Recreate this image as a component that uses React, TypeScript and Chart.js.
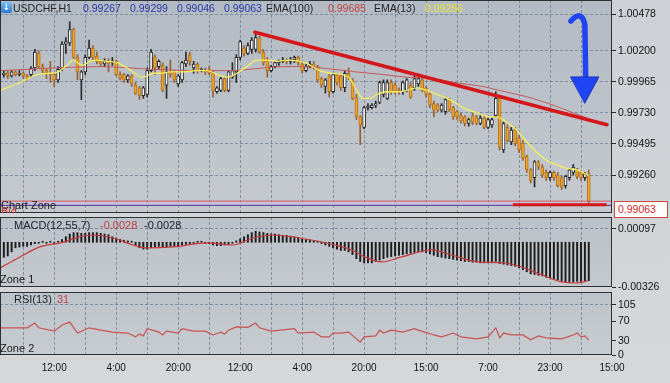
import React, { useEffect, useRef } from 'react';
import { Chart, registerables } from 'chart.js';

Chart.register(...registerables);

const FONT = '"Liberation Sans", Arial, Helvetica, sans-serif';

// ---------------- data (prices in pips: 1 pip = 0.0001) ----------------
const openPips = [
  10002, 10003, 10001, 10004, 10002, 10003, 10001, 10002, 10007, 10018,
  10008, 10005, 10003, 10002, 9998, 10006, 10025, 10026, 10036, 10015,
  9998, 10004, 10015, 10022, 10016, 10012, 10010, 10012, 10011, 10012,
  10002, 10002, 9998, 10001, 9994, 9992, 9986, 9987, 10005, 10015,
  10008, 10009, 9994, 10004, 10004, 9995, 9998, 10010, 10017, 10007,
  10010, 10005, 10005, 10006, 10003, 9989, 9990, 9999, 9990, 10000,
  10004, 10015, 10022, 10018, 10021, 10021, 10030, 10019, 10013, 10005,
  10008, 10011, 10012, 10013, 10012, 10013, 10015, 10010, 10005, 10008,
  10010, 10008, 9999, 9993, 10001, 9989, 10002, 10001, 9992, 10003,
  9998, 9985, 9970, 9962, 9977, 9977, 9979, 9981, 9987, 9984,
  9996, 9994, 9990, 9989, 9990, 9994, 9992, 9995, 9998, 9992,
  9987, 9980, 9979, 9975, 9974, 9983, 9977, 9974, 9971, 9970,
  9965, 9971, 9970, 9965, 9969, 9962, 9964, 9971, 9984, 9945,
  9962, 9951, 9960, 9954, 9950, 9940, 9930, 9924, 9936, 9932,
  9928, 9924, 9928, 9926, 9924, 9918, 9924, 9928, 9930, 9928,
  9924, 9926.7,
];
const highPips = [
  10005, 10005, 10005, 10005, 10005, 10004, 10002, 10008, 10021, 10020,
  10010, 10006, 10012, 10003, 10008, 10027, 10030, 10042, 10037, 10017,
  10005, 10017, 10028, 10024, 10019, 10013, 10014, 10014, 10015, 10013,
  10004, 10003, 10002, 10002, 9996, 9993, 9993, 10007, 10021, 10017,
  10013, 10011, 10008, 10013, 10005, 10002, 10012, 10019, 10019, 10012,
  10011, 10007, 10007, 10008, 10005, 9993, 10000, 10000, 10005, 10011,
  10017, 10028, 10024, 10026, 10030, 10034, 10031, 10021, 10015, 10009,
  10012, 10013, 10015, 10014, 10015, 10016, 10016, 10012, 10010, 10012,
  10012, 10009, 10000, 9999, 10002, 10003, 10003, 10002, 10005, 10007,
  9999, 9987, 9971, 9978, 9980, 9980, 9982, 9997, 9998, 9998,
  9998, 9996, 9992, 9997, 9999, 9996, 10001, 10002, 9999, 9993,
  9988, 9982, 9980, 9980, 9984, 9984, 9978, 9975, 9973, 9971,
  9969, 9973, 9971, 9971, 9971, 9969, 9969, 9989, 9986, 9966,
  9964, 9962, 9962, 9956, 9952, 9941, 9931, 9937, 9937, 9934,
  9930, 9929, 9929, 9928, 9925, 9926, 9931, 9934, 9931, 9929,
  9928, 9929.9,
];
const lowPips = [
  10000, 9999, 10000, 10001, 10001, 9999, 9998, 10000, 10005, 10007,
  10003, 9999, 9996, 9993, 9996, 10005, 10018, 10024, 10014, 9998,
  9983, 10002, 10014, 10013, 10010, 10008, 10008, 10004, 10009, 10001,
  9998, 9996, 9996, 9993, 9987, 9983, 9984, 9985, 10004, 10002,
  10006, 9989, 9984, 10000, 9996, 9993, 9996, 10008, 10009, 10003,
  10003, 10004, 10002, 10002, 9985, 9988, 9989, 9989, 9989, 9999,
  9996, 10013, 10016, 10017, 10018, 10019, 10018, 10009, 10000, 10004,
  10007, 10009, 10011, 10010, 10010, 10011, 10009, 10003, 10004, 10007,
  10006, 9996, 9992, 9988, 9985, 9988, 9994, 9990, 9989, 9998,
  9983, 9968, 9949, 9961, 9975, 9976, 9977, 9980, 9985, 9983,
  9987, 9987, 9987, 9987, 9989, 9984, 9990, 9993, 9989, 9985,
  9977, 9970, 9974, 9974, 9972, 9974, 9968, 9968, 9965, 9963,
  9963, 9964, 9964, 9964, 9961, 9961, 9962, 9970, 9945, 9943,
  9951, 9949, 9948, 9943, 9937, 9928, 9920, 9917, 9930, 9924,
  9922, 9922, 9922, 9917, 9915, 9916, 9922, 9926, 9923, 9922,
  9922, 9904.6,
];
const closePips = [
  10003, 10001, 10004, 10002, 10003, 10001, 9999, 10007, 10019, 10008,
  10005, 10003, 10002, 9998, 10006, 10025, 10027, 10036, 10015, 10004,
  10004, 10015, 10022, 10015, 10012, 10010, 10012, 10010, 10012, 10002,
  9999, 9998, 10001, 9995, 9988, 9986, 9992, 10005, 10019, 10007,
  10012, 9990, 10004, 10002, 9998, 10001, 10011, 10013, 10012, 10010,
  10005, 10006, 10004, 10003, 9990, 9992, 9999, 9990, 10004, 10005,
  10015, 10027, 10018, 10024, 10028, 10030, 10019, 10011, 10005, 10008,
  10011, 10012, 10013, 10012, 10013, 10015, 10011, 10005, 10008, 10010,
  10008, 9998, 9994, 9998, 9989, 10002, 9996, 9992, 10003, 9999,
  9984, 9970, 9964, 9977, 9978, 9979, 9980, 9996, 9996, 9996,
  9989, 9989, 9989, 9996, 9998, 9985, 9999, 9999, 9990, 9987,
  9979, 9975, 9975, 9979, 9983, 9975, 9970, 9970, 9967, 9965,
  9968, 9966, 9965, 9969, 9962, 9968, 9968, 9984, 9947, 9965,
  9952, 9960, 9950, 9945, 9939, 9930, 9922, 9936, 9932, 9926,
  9924, 9928, 9924, 9918, 9917, 9925, 9930, 9932, 9925, 9924,
  9927, 9906.3,
];

// EMA lines (bar position, pips)
const ema13Bars = [0, 5.2, 9.5, 12.9, 15, 18, 18.8, 21.2, 23.2, 25, 27.6, 30.2, 32.8, 36.9, 39.5, 41.3, 43.9, 47.2, 50.8, 53.7, 56, 58.6, 61.2, 63.7, 66.3, 68.9, 71.5, 74.8, 78.7, 82.6, 85.2, 88.5, 90.3, 92.1, 93.7, 95.5, 97.3, 99.9, 102.5, 105, 107.6, 110.2, 112.8, 115.4, 117.4, 119.5, 123.1, 126.5, 128.5, 129.8, 133.4, 136, 138.6, 141.2, 143.7, 146.3, 148.9, 152];
const ema13Pips = [9990, 9996, 10002, 10003, 10004, 10011, 10013, 10009, 10012, 10013, 10012, 10011, 10007, 10000, 10003, 10003, 10004, 10004, 10005, 10005, 10002, 10000, 10003, 10008, 10013, 10013, 10012, 10013, 10011, 10005, 10003, 10002, 9999, 9990, 9984, 9984, 9987, 9989, 9989, 9990, 9992, 9990, 9987, 9984, 9981, 9977, 9973, 9970, 9970, 9968, 9960, 9951, 9943, 9937, 9934, 9931, 9930, 9925.6];
const ema100Bars = [0, 25.8, 39.5, 51.6, 60, 64.5, 73, 78.7, 86, 92, 99, 105, 111.7, 117.4, 124.6, 129, 137.5, 144.5, 152];
const ema100Pips = [10005, 10008, 10006, 10005, 10005, 10006, 10008, 10008, 10006, 10004, 10002, 10000, 9999, 9996, 9993, 9990, 9984, 9977, 9968.5];

// hand-drawn annotations (bar position, price)
const trendBars = [65.8, 156.7];
const trendPrices = [1.0034, 0.9964];
const supportBars = [132.4, 156.6];
const supportPrices = [0.99035, 0.99035];
const arrowBars = [147.4, 150.2, 151.0, 151.2];
const arrowPrices = [1.00425, 1.00516, 1.00395, 1.00005];
const headBars = [147.4, 154.6, 151.0];
const headPrices = [1.00002, 1.00002, 0.99805];
const bidPrice = 0.99063;
const zonePrice = 0.99031;

// MACD (units of 0.0001)
const macdHist = [
  -11, -10, -7, -4, -3.5, -3, -3, -2, -1, -0.5,
  0.3, -0.3, 0.3, -0.3, 0.3, 2, 4, 6, 7, 7,
  6.5, 6.5, 7, 7, 7, 6.5, 6, 5.5, 4, 3,
  2, 1.5, 1, 0.3, -2, -4, -5, -5, -4, -3.5,
  -3, -3.5, -3.5, -3, -3, -2.5, -2, -1.5, -1, -0.5,
  0.3, 0.3, -0.3, -1, -2, -2.5, -2.5, -2, -1.5, -0.5,
  1, 2.5, 4, 5.5, 7, 8, 7.5, 7, 6.5, 6,
  6, 5.5, 5, 5, 4.5, 4, 3.5, 2.5, 2, 1.5,
  1, 0.3, -1, -2, -3, -4, -5, -6, -6, -7,
  -9, -12, -14, -15, -15, -15, -14, -13, -12, -11,
  -10.5, -10, -9.5, -9, -8.5, -8, -7.5, -7, -7, -7.5,
  -8.5, -9.5, -10.5, -11, -11.5, -12, -12.5, -13, -13.5, -14,
  -14, -14.5, -14.5, -15, -15, -15, -15, -14, -15.5, -16,
  -16.5, -17, -17.5, -18.5, -20, -21.5, -23, -23.5, -24, -24.5,
  -25.5, -26, -26.5, -27.5, -28.5, -29, -29, -29, -28.5, -28.5,
  -28, -28,
];
const macdSigBars = [0, 5.2, 10.3, 15.5, 20.6, 24, 29.2, 34.3, 38, 44.6, 53.4, 60.1, 65.3, 70.5, 77.4, 86.5, 90.8, 94.2, 98.6, 103.7, 111.5, 116.6, 123.4, 130.3, 134.7, 139.9, 145, 148.4, 151.7];
const macdSigVals = [-18.7, -10.7, -3.4, -0.5, 3.9, 5.3, 3.1, -2, -4.2, -3.4, -0.5, -2, 3.1, 5.3, 3.1, -2, -5.6, -10.7, -14.3, -10.7, -5.6, -9.3, -14.3, -15.1, -18, -23.8, -28.9, -29.7, -28.2];

// RSI(13)
const rsiBars = [0, 7, 9, 10, 14, 16, 18, 20, 23, 26, 29, 33, 35, 36, 37, 38, 41, 42, 43, 46, 47, 50, 53, 55, 57, 58, 59, 61, 64, 66, 67, 70, 76, 77, 81, 83, 85, 86, 88, 90, 93, 94, 97, 98, 99, 101, 104, 107, 108, 112, 114, 117, 119, 123, 126, 128, 129, 130, 132, 135, 137, 139, 141, 145, 148, 149, 150, 151, 152];
const rsiVals = [57, 57, 67, 57, 50, 63, 69, 46, 57, 52, 48, 46, 38, 44, 40, 55, 48, 42, 50, 46, 55, 50, 50, 42, 48, 44, 52, 59, 58, 67, 57, 50, 55, 46, 48, 38, 38, 46, 46, 48, 27, 38, 40, 52, 46, 52, 48, 55, 52, 42, 38, 46, 38, 34, 38, 57, 36, 46, 42, 42, 32, 40, 36, 34, 42, 46, 38, 40, 31];

// ticks
const priceTicks = [1.00478, 1.002, 0.99965, 0.9973, 0.99495, 0.9926];
const macdTicks = [0.00097, -0.00326];
const rsiTicks = [105, 70, 30, 0];
const gridBars = [6, 14, 22, 30, 38, 46, 54, 62, 70, 78, 86, 94, 102, 110, 118, 126, 134, 142, 150];
const timeTickBars = [14, 30, 46, 62, 78, 94, 110, 126, 142, 158];
const timeTickLabels = ['12:00', '4:00', '20:00', '12:00', '4:00', '20:00', '15:00', '7:00', '23:00', '15:00'];

// ---------------- scale ranges ----------------
const X_MIN = 0;
const X_MAX = 158;
const PRICE_MIN = 0.98973;
const PRICE_MAX = 1.00584;
const MACD_MIN = -0.00326;
const MACD_MAX = 0.00184;
const RSI_MIN = 0;
const RSI_MAX = 132;

const GRID_COLOR = 'rgba(108,124,144,0.75)';
const TRANSPARENT = 'rgba(0,0,0,0)';

const pip = (v: number) => v / 10000;

function xScale(labels: boolean): any {
  return {
    type: 'linear',
    min: X_MIN,
    max: X_MAX,
    offset: false,
    afterBuildTicks: (s: any) => {
      s.ticks = (labels ? [...gridBars, X_MAX] : gridBars).map((v) => ({ value: v }));
    },
    afterFit: (s: any) => {
      s.height = labels ? 28 : 0;
      s.paddingLeft = 0;
      s.paddingRight = 0;
    },
    grid: {
      offset: false,
      drawTicks: false,
      lineWidth: 1,
      color: (c: any) => (c.tick && c.tick.value >= X_MAX ? TRANSPARENT : GRID_COLOR),
    },
    border: { display: false, dash: [3, 2] },
    ticks: labels
      ? {
          display: true,
          autoSkip: false,
          maxRotation: 0,
          padding: 7,
          color: '#141414',
          font: { family: FONT, size: 10 },
          callback: (v: any) => {
            const k = timeTickBars.indexOf(v);
            return k >= 0 ? timeTickLabels[k] : '';
          },
        }
      : { display: false },
  };
}

function yScale(min: number, max: number, ticks: number[], fmt: (v: number) => string, gridOn: (v: number) => boolean): any {
  return {
    type: 'linear',
    position: 'right',
    min,
    max,
    afterBuildTicks: (s: any) => {
      s.ticks = ticks.map((v) => ({ value: v }));
    },
    afterFit: (s: any) => {
      s.width = 58;
      s.paddingTop = 0;
      s.paddingBottom = 0;
    },
    grid: {
      drawTicks: true,
      tickLength: 4,
      tickColor: '#2a2a2a',
      tickWidth: 1,
      lineWidth: 1,
      color: (c: any) => (c.tick && gridOn(c.tick.value) ? GRID_COLOR : TRANSPARENT),
    },
    border: { display: false, dash: [3, 2] },
    ticks: {
      autoSkip: false,
      padding: 2,
      color: '#141414',
      font: { family: FONT, size: 10.5 },
      callback: (v: any) => fmt(Number(v)),
    },
  };
}

function panelPlugin(top: string, bottom: string): any {
  return {
    id: 'panel',
    beforeDraw(chart: any) {
      const { ctx, chartArea: a } = chart;
      const g = ctx.createLinearGradient(0, a.top, 0, a.bottom);
      g.addColorStop(0, top);
      g.addColorStop(1, bottom);
      ctx.save();
      ctx.fillStyle = g;
      ctx.fillRect(a.left, a.top, a.right - a.left, a.bottom - a.top);
      ctx.restore();
    },
    afterDraw(chart: any) {
      const { ctx, chartArea: a } = chart;
      ctx.save();
      ctx.strokeStyle = '#2c3136';
      ctx.lineWidth = 1;
      ctx.strokeRect(a.left + 0.5, a.top + 0.5, a.right - a.left - 1, a.bottom - a.top - 1);
      ctx.restore();
    },
  };
}

const mainExtras: any = {
  id: 'mainExtras',
  beforeDatasetsDraw(chart: any) {
    const { ctx, chartArea: a, scales } = chart;
    const y1 = scales.y.getPixelForValue(bidPrice);
    const y2 = scales.y.getPixelForValue(zonePrice);
    ctx.save();
    ctx.fillStyle = 'rgba(206,186,232,0.55)';
    ctx.fillRect(a.left, y1, a.right - a.left, y2 - y1);
    ctx.restore();
  },
  afterDatasetsDraw(chart: any) {
    const { ctx, scales } = chart;
    const px = (b: number) => scales.x.getPixelForValue(b);
    const py = (p: number) => scales.y.getPixelForValue(p);
    ctx.save();
    ctx.strokeStyle = '#2144f2';
    ctx.lineWidth = 5.5;
    ctx.lineCap = 'round';
    ctx.lineJoin = 'round';
    ctx.beginPath();
    ctx.moveTo(px(arrowBars[0]), py(arrowPrices[0]));
    ctx.quadraticCurveTo(px(arrowBars[1]), py(arrowPrices[1]), px(arrowBars[2]), py(arrowPrices[2]));
    ctx.lineTo(px(arrowBars[3]), py(arrowPrices[3]));
    ctx.stroke();
    ctx.fillStyle = '#2144f2';
    ctx.strokeStyle = '#1a33c0';
    ctx.lineWidth = 1;
    ctx.beginPath();
    ctx.moveTo(px(headBars[0]), py(headPrices[0]));
    ctx.lineTo(px(headBars[1]), py(headPrices[1]));
    ctx.lineTo(px(headBars[2]), py(headPrices[2]));
    ctx.closePath();
    ctx.fill();
    ctx.stroke();
    ctx.restore();
  },
};

const baseOptions = (padBottom: number): any => ({
  responsive: false,
  maintainAspectRatio: false,
  animation: false,
  events: [],
  layout: { padding: { left: 0, right: 0, top: 0, bottom: padBottom } },
  plugins: { legend: { display: false }, tooltip: { enabled: false } },
});

function mainConfig(): any {
  const idx = openPips.map((_, i) => i + 1);
  const up = openPips.map((o, i) => closePips[i] >= o);
  return {
    type: 'bar',
    data: {
      datasets: [
        {
          type: 'line',
          label: 'Trend',
          data: trendBars.map((x, i) => ({ x, y: trendPrices[i] })),
          borderColor: '#d3171b',
          borderWidth: 3.5,
          pointRadius: 0,
          borderCapStyle: 'round',
          order: 0,
        },
        {
          type: 'line',
          label: 'Support',
          data: supportBars.map((x, i) => ({ x, y: supportPrices[i] })),
          borderColor: '#d3171b',
          borderWidth: 3,
          pointRadius: 0,
          order: 0,
        },
        {
          type: 'line',
          label: 'EMA(13)',
          data: ema13Bars.map((x, i) => ({ x, y: pip(ema13Pips[i]) })),
          borderColor: '#f3ef5e',
          borderWidth: 1.3,
          pointRadius: 0,
          tension: 0.4,
          cubicInterpolationMode: 'monotone',
          order: 1,
        },
        {
          type: 'line',
          label: 'EMA(100)',
          data: ema100Bars.map((x, i) => ({ x, y: pip(ema100Pips[i]) })),
          borderColor: '#c35a5c',
          borderWidth: 1,
          pointRadius: 0,
          tension: 0.4,
          cubicInterpolationMode: 'monotone',
          order: 2,
        },
        {
          type: 'line',
          label: 'Bid',
          data: [{ x: X_MIN, y: bidPrice }, { x: X_MAX, y: bidPrice }],
          borderColor: '#d65a5a',
          borderWidth: 1,
          pointRadius: 0,
          order: 3,
        },
        {
          type: 'line',
          label: 'Chart Zone',
          data: [{ x: X_MIN, y: zonePrice }, { x: X_MAX, y: zonePrice }],
          borderColor: '#4b3192',
          borderWidth: 1,
          pointRadius: 0,
          order: 3,
        },
        {
          type: 'bar',
          label: 'Body',
          data: idx.map((x, i) => ({ x, y: [pip(openPips[i]), pip(closePips[i])] })),
          backgroundColor: up.map((u) => (u ? '#fbfbfb' : '#f0a42a')),
          borderColor: up.map((u) => (u ? '#262626' : '#b4741c')),
          borderWidth: 1,
          borderSkipped: false,
          barThickness: 3,
          minBarLength: 1,
          grouped: false,
          order: 4,
        },
        {
          type: 'bar',
          label: 'Wick',
          data: idx.map((x, i) => ({ x, y: [pip(lowPips[i]), pip(highPips[i])] })),
          backgroundColor: up.map((u) => (u ? '#2a2a2a' : '#9c6030')),
          barThickness: 1,
          grouped: false,
          order: 5,
        },
      ],
    },
    options: {
      ...baseOptions(9),
      scales: {
        x: xScale(false),
        y: yScale(PRICE_MIN, PRICE_MAX, priceTicks, (v) => v.toFixed(5), () => true),
      },
    },
    plugins: [panelPlugin('#b2bac3', '#c6cacf'), mainExtras],
  };
}

function macdConfig(): any {
  return {
    type: 'bar',
    data: {
      datasets: [
        {
          type: 'line',
          label: 'Signal',
          data: macdSigBars.map((x, i) => ({ x, y: pip(macdSigVals[i]) })),
          borderColor: '#c7383b',
          borderWidth: 1.2,
          pointRadius: 0,
          tension: 0.4,
          cubicInterpolationMode: 'monotone',
          order: 0,
        },
        {
          type: 'bar',
          label: 'MACD',
          data: macdHist.map((v, i) => ({ x: i + 1, y: pip(v) })),
          backgroundColor: '#1e1e1e',
          barThickness: 1.3,
          minBarLength: 1,
          grouped: false,
          order: 1,
        },
      ],
    },
    options: {
      ...baseOptions(5),
      scales: {
        x: xScale(false),
        y: yScale(MACD_MIN, MACD_MAX, macdTicks, (v) => v.toFixed(5), (v) => v > MACD_MIN),
      },
    },
    plugins: [panelPlugin('#bac1c8', '#c5c9ce')],
  };
}

function rsiConfig(): any {
  return {
    type: 'line',
    data: {
      datasets: [
        {
          label: 'RSI(13)',
          data: rsiBars.map((x, i) => ({ x, y: rsiVals[i] })),
          borderColor: '#c65354',
          borderWidth: 1.2,
          pointRadius: 0,
          tension: 0,
        },
      ],
    },
    options: {
      ...baseOptions(0),
      scales: {
        x: xScale(true),
        y: yScale(RSI_MIN, RSI_MAX, rsiTicks, (v) => String(v), (v) => v === 105),
      },
    },
    plugins: [panelPlugin('#bcc3ca', '#c8ccd0')],
  };
}

function Txt(props: { x: number; y: number; color: string; size?: number; children: any }) {
  return (
    <span
      style={{
        position: 'absolute',
        left: props.x,
        top: props.y,
        color: props.color,
        fontSize: props.size || 11,
        lineHeight: '13px',
        whiteSpace: 'nowrap',
        fontFamily: FONT,
      }}
    >
      {props.children}
    </span>
  );
}

export default function App() {
  const mainRef = useRef<HTMLCanvasElement>(null);
  const macdRef = useRef<HTMLCanvasElement>(null);
  const rsiRef = useRef<HTMLCanvasElement>(null);

  useEffect(() => {
    document.body.style.margin = '0';
    const charts: Chart[] = [];
    if (mainRef.current) charts.push(new Chart(mainRef.current, mainConfig()));
    if (macdRef.current) charts.push(new Chart(macdRef.current, macdConfig()));
    if (rsiRef.current) charts.push(new Chart(rsiRef.current, rsiConfig()));
    return () => charts.forEach((c) => c.destroy());
  }, []);

  const dark = '#20242c';
  const blue = '#2a38a8';
  const red = '#c24242';

  return (
    <div
      style={{
        position: 'fixed',
        left: 0,
        top: 0,
        width: 670,
        height: 383,
        overflow: 'hidden',
        background: 'linear-gradient(180deg, #cdd1d5 0%, #d5d7d9 100%)',
        fontFamily: FONT,
      }}
    >
      <canvas ref={mainRef} width={670} height={222} style={{ position: 'absolute', left: 0, top: 0 }} />
      <canvas ref={macdRef} width={670} height={75} style={{ position: 'absolute', left: 0, top: 217 }} />
      <canvas ref={rsiRef} width={670} height={91} style={{ position: 'absolute', left: 0, top: 292 }} />

      {/* title row */}
      <div
        style={{
          position: 'absolute',
          left: 1,
          top: 2,
          width: 11,
          height: 11,
          borderRadius: 2,
          background: 'linear-gradient(180deg, #79bdf5, #2a79d2)',
          color: '#fff',
          fontSize: 9,
          lineHeight: '11px',
          textAlign: 'center',
          fontWeight: 'bold',
          fontFamily: '"DejaVu Sans", sans-serif',
        }}
      >
        ↓
      </div>
      <Txt x={13} y={1.5} color={dark} size={10.5}>USDCHF,H1</Txt>
      <Txt x={83} y={1.5} color={blue} size={10.5}>0.99267</Txt>
      <Txt x={130} y={1.5} color={blue} size={10.5}>0.99299</Txt>
      <Txt x={177} y={1.5} color={blue} size={10.5}>0.99046</Txt>
      <Txt x={224} y={1.5} color={blue} size={10.5}>0.99063</Txt>
      <Txt x={266} y={1.5} color={dark} size={10.5}>EMA(100)</Txt>
      <Txt x={328} y={1.5} color={red} size={10.5}>0.99685</Txt>
      <Txt x={374} y={1.5} color={dark} size={10.5}>EMA(13)</Txt>
      <Txt x={425} y={1.5} color={'#e9e43c'} size={10.5}>0.99256</Txt>

      {/* zone labels */}
      <Txt x={1} y={198.5} color={'#1a1a1a'}>Chart Zone</Txt>
      <div style={{ position: 'absolute', left: 0, top: 205, width: 30, height: 8, overflow: 'hidden' }}>
        <span style={{ position: 'absolute', left: 1, top: 0, color: '#c83030', fontSize: 11, lineHeight: '13px' }}>Bid</span>
      </div>
      <div
        style={{
          position: 'absolute',
          left: 614,
          top: 201,
          width: 54,
          height: 17,
          boxSizing: 'border-box',
          border: '1px solid #d24444',
          background: '#ffffff',
          color: '#d02828',
          fontSize: 10.5,
          lineHeight: '15px',
          paddingLeft: 3,
          fontFamily: FONT,
        }}
      >
        0.99063
      </div>

      <Txt x={14} y={218.5} color={dark}>MACD(12,55,7)</Txt>
      <Txt x={100} y={218.5} color={red}>-0.0028</Txt>
      <Txt x={144} y={218.5} color={dark}>-0.0028</Txt>
      <Txt x={0} y={272.5} color={'#1a1a1a'}>Zone 1</Txt>

      <Txt x={14} y={292.5} color={dark}>RSI(13)</Txt>
      <Txt x={57} y={292.5} color={red}>31</Txt>
      <Txt x={0} y={341.5} color={'#1a1a1a'}>Zone 2</Txt>
    </div>
  );
}
